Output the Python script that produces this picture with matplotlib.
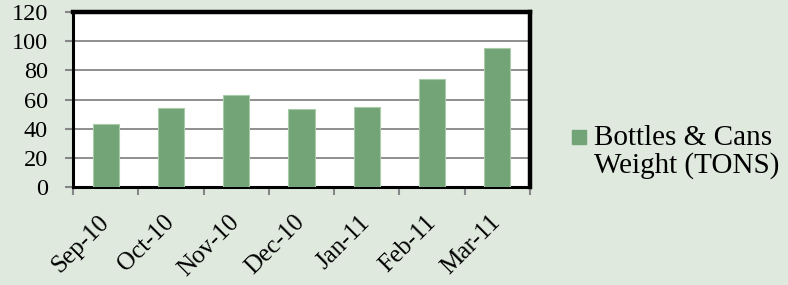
import matplotlib.pyplot as plt
from matplotlib.patches import Rectangle

# data
months = ['Sep-10', 'Oct-10', 'Nov-10', 'Dec-10', 'Jan-11', 'Feb-11', 'Mar-11']
weight = [43, 54.5, 63, 53.5, 55, 74, 95]
series_name = 'Bottles & Cans\nWeight (TONS)'
yticks = [0, 20, 40, 60, 80, 100, 120]

bg = '#dfe9de'
bar_col = '#72a478'
grid_col = '#868686'

plt.rcParams['font.family'] = ['Liberation Serif', 'DejaVu Serif']

fig = plt.figure(figsize=(7.88, 2.85), dpi=100)
fig.patch.set_facecolor(bg)
ax = fig.add_axes([73/788, 1-187/285, 457/788, 175/285])
ax.set_facecolor('white')

x = list(range(len(months)))
ax.bar(x, weight, width=0.4, color=bar_col, edgecolor='#a9cbaa', linewidth=0.8, zorder=3)

ax.set_xlim(-0.5, len(months) - 0.5)
ax.set_ylim(0, 120)
ax.set_yticks(yticks)
ax.set_yticklabels([str(v) for v in yticks])
ax.yaxis.grid(True, color=grid_col, linewidth=1.3, zorder=1)

# labels at centres, ticks at boundaries
ax.set_xticks(x)
ax.set_xticklabels(months, rotation=45, ha='right', va='center', rotation_mode='anchor')
ax.set_xticks([i - 0.5 for i in range(len(months) + 1)], minor=True)
ax.tick_params(axis='x', which='major', length=0, pad=23, labelsize=18)
ax.tick_params(axis='x', which='minor', length=6, width=1.5, color=grid_col, direction='out')
ax.tick_params(axis='y', length=6, width=1.5, color=grid_col, pad=12, labelsize=17.5)

for side in ['top', 'right']:
    ax.spines[side].set_linewidth(3.2)
    ax.spines[side].set_color('black')
for side in ['left', 'bottom']:
    ax.spines[side].set_linewidth(2.2)
    ax.spines[side].set_color('black')

# legend
fig.patches.append(Rectangle((572/788, 1-144/285), 14/788, 14/285,
                             transform=fig.transFigure, color=bar_col))
fig.text(594/788, 1-125/285, series_name, fontsize=21, va='top', ha='left',
         linespacing=1.05)

fig.savefig('out.png', dpi=100, facecolor=bg)
